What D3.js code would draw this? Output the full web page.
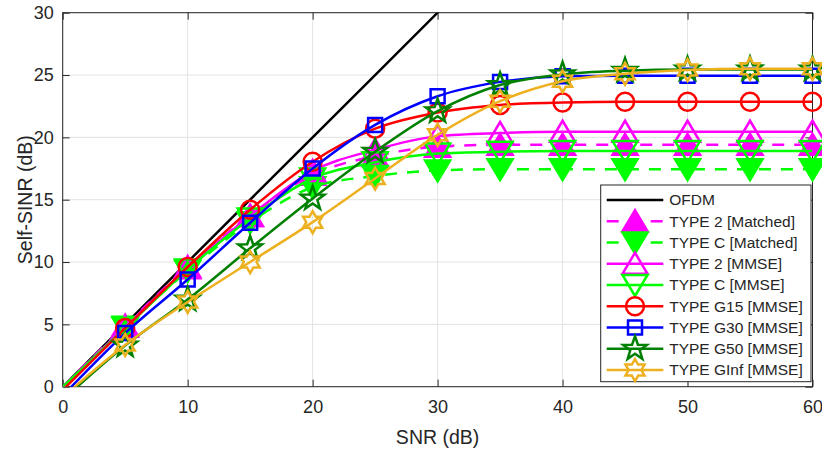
<!DOCTYPE html>
<html>
<head>
<meta charset="utf-8">
<script src="https://cdn.jsdelivr.net/npm/d3@7"></script>
<style>
  body { margin: 0; background: #fff; }
  text { font-family: "Liberation Sans", Arial, Helvetica, sans-serif; fill: #262626; }
</style>
</head>
<body>
<div class="chart"></div>
<script>
// Chart data
var snr = [0, 5, 10, 15, 20, 25, 30, 35, 40, 45, 50, 55, 60];
var ofdm = [0, 5, 10, 15, 20, 25, 30, 35, 40, 45, 50, 55, 60];
var type2Matched = [0.0, 4.9, 9.6, 13.7, 17.0, 18.5, 19.25, 19.4, 19.4, 19.4, 19.4, 19.4, 19.4];
var typeCMatched = [-0.1, 4.8, 9.3, 13.2, 16.0, 16.9, 17.35, 17.45, 17.45, 17.45, 17.45, 17.45, 17.45];
var type2Mmse = [0.0, 4.8, 9.5, 13.7, 17.3, 19.0, 20.1, 20.35, 20.45, 20.45, 20.45, 20.45, 20.45];
var typeCMmse = [0.0, 4.7, 9.4, 13.5, 16.7, 18.0, 18.7, 18.85, 18.9, 18.9, 18.9, 18.9, 18.9];
var g15Mmse = [-0.27, 4.7, 9.6, 14.2, 18.05, 20.7, 22.0, 22.6, 22.8, 22.85, 22.85, 22.85, 22.85];
var g30Mmse = [-0.72, 4.3, 8.6, 13.15, 17.5, 21.0, 23.3, 24.45, 24.9, 24.95, 24.95, 24.95, 24.95];
var g50Mmse = [-1.05, 3.3, 7.0, 11.1, 15.1, 18.85, 22.1, 24.2, 25.05, 25.35, 25.45, 25.45, 25.45];
var gInfMmse = [-0.85, 3.35, 6.8, 10.0, 13.2, 16.7, 20.2, 22.9, 24.5, 25.1, 25.4, 25.5, 25.5];

var seriesNames = ["OFDM", "TYPE 2 [Matched]", "TYPE C [Matched]", "TYPE 2 [MMSE]", "TYPE C [MMSE]",
  "TYPE G15 [MMSE]", "TYPE G30 [MMSE]", "TYPE G50 [MMSE]", "TYPE GInf [MMSE]"];
var seriesValues = [ofdm, type2Matched, typeCMatched, type2Mmse, typeCMmse, g15Mmse, g30Mmse, g50Mmse, gInfMmse];

var xTicks = [0, 10, 20, 30, 40, 50, 60];
var yTicks = [0, 5, 10, 15, 20, 25, 30];

// styles per series
var styles = [
  { color: "#000000", dash: null, marker: null, fill: false },
  { color: "#ff00ff", dash: "12,10", marker: "triUp", fill: true },
  { color: "#00ff00", dash: "12,10", marker: "triDown", fill: true },
  { color: "#ff00ff", dash: null, marker: "triUp", fill: false },
  { color: "#00ff00", dash: null, marker: "triDown", fill: false },
  { color: "#ff0000", dash: null, marker: "circle", fill: false },
  { color: "#0000ff", dash: null, marker: "square", fill: false },
  { color: "#008000", dash: null, marker: "pentagram", fill: false },
  { color: "#edb120", dash: null, marker: "hexagram", fill: false }
];

var svgWidth = 822;
var svgHeight = 450;

var margin = { top: 12.7, right: 9.5, bottom: 63.3, left: 62.7 };
var width = svgWidth - margin.left - margin.right;
var height = svgHeight - margin.top - margin.bottom;

var svg = d3.select(".chart")
  .append("svg")
  .attr("width", svgWidth)
  .attr("height", svgHeight);

var chartGroup = svg.append("g")
  .attr("transform", `translate(${margin.left}, ${margin.top})`);

var xScale = d3.scaleLinear().domain([0, 60]).range([0, width]);
var yScale = d3.scaleLinear().domain([0, 30]).range([height, 0]);

// grid
chartGroup.append("g")
  .selectAll("line.vgrid")
  .data(xTicks)
  .enter()
  .append("line")
  .attr("x1", d => xScale(d)).attr("x2", d => xScale(d))
  .attr("y1", 0).attr("y2", height)
  .attr("stroke", "#e3e3e3").attr("stroke-width", 1);

chartGroup.append("g")
  .selectAll("line.hgrid")
  .data(yTicks)
  .enter()
  .append("line")
  .attr("x1", 0).attr("x2", width)
  .attr("y1", d => yScale(d)).attr("y2", d => yScale(d))
  .attr("stroke", "#e3e3e3").attr("stroke-width", 1);

// axes (ticks inside, mirrored on top / right)
function styleAxis(g) {
  g.select(".domain").remove();
  g.selectAll(".tick line").attr("stroke", "#262626");
  g.selectAll(".tick text")
    .style("font-size", "18px")
    .attr("fill", "#262626");
}

chartGroup.append("g")
  .attr("transform", `translate(0, ${height})`)
  .call(d3.axisBottom(xScale).tickValues(xTicks).tickSize(-7).tickPadding(14))
  .call(styleAxis);

chartGroup.append("g")
  .call(d3.axisLeft(yScale).tickValues(yTicks).tickSize(-7).tickPadding(9))
  .call(styleAxis);

chartGroup.append("g")
  .call(d3.axisTop(xScale).tickValues(xTicks).tickSize(-7).tickFormat(""))
  .call(styleAxis);

chartGroup.append("g")
  .attr("transform", `translate(${width}, 0)`)
  .call(d3.axisRight(yScale).tickValues(yTicks).tickSize(-7).tickFormat(""))
  .call(styleAxis);

chartGroup.append("rect")
  .attr("width", width).attr("height", height)
  .attr("fill", "none")
  .attr("stroke", "#262626").attr("stroke-width", 1);

// axis labels
chartGroup.append("text")
  .attr("x", width / 2)
  .attr("y", height + 50)
  .attr("dy", "0.35em")
  .attr("text-anchor", "middle")
  .style("font-size", "19.5px")
  .text("SNR (dB)");

chartGroup.append("text")
  .attr("transform", `translate(-38, ${height / 2}) rotate(-90)`)
  .attr("dy", "0.35em")
  .attr("text-anchor", "middle")
  .style("font-size", "19.5px")
  .text("Self-SINR (dB)");

// marker shapes
function markerPath(type) {
  var p = d3.path();
  var i, a, r;
  if (type === "triUp" || type === "triDown") {
    var s = type === "triUp" ? 1 : -1;
    p.moveTo(0, -11 * s); p.lineTo(12.5, 10 * s); p.lineTo(-12.5, 10 * s); p.closePath();
  } else if (type === "circle") {
    p.arc(0, 0, 9, 0, 2 * Math.PI);
  } else if (type === "square") {
    p.rect(-7, -7, 14, 14);
  } else if (type === "pentagram") {
    for (i = 0; i < 10; i++) {
      r = i % 2 === 0 ? 12.5 : 5;
      a = -Math.PI / 2 + i * Math.PI / 5;
      if (i === 0) p.moveTo(r * Math.cos(a), r * Math.sin(a));
      else p.lineTo(r * Math.cos(a), r * Math.sin(a));
    }
    p.closePath();
  } else if (type === "hexagram") {
    for (i = 0; i < 12; i++) {
      r = i % 2 === 0 ? 11 : 11 / Math.sqrt(3);
      a = -Math.PI / 2 + i * Math.PI / 6;
      if (i === 0) p.moveTo(r * Math.cos(a), r * Math.sin(a));
      else p.lineTo(r * Math.cos(a), r * Math.sin(a));
    }
    p.closePath();
  }
  return p.toString();
}

// clip lines to plot area
svg.append("defs").append("clipPath")
  .attr("id", "plotClip")
  .append("rect")
  .attr("width", width).attr("height", height);

var line = d3.line()
  .x(d => xScale(d.x))
  .y(d => yScale(d.y))
  .curve(d3.curveMonotoneX);

seriesValues.forEach(function(vals, k) {
  var st = styles[k];
  var pts = snr.map((x, i) => ({ x: x, y: vals[i] }));
  var g = chartGroup.append("g");

  g.append("path")
    .datum(pts)
    .attr("clip-path", "url(#plotClip)")
    .attr("fill", "none")
    .attr("stroke", st.color)
    .attr("stroke-width", 2.5)
    .attr("stroke-dasharray", st.dash)
    .attr("d", line);

  if (st.marker) {
    g.selectAll("path.marker")
      .data(pts.filter(d => d.x > 0))
      .enter()
      .append("path")
      .attr("class", "marker")
      .attr("transform", d => `translate(${xScale(d.x)}, ${yScale(d.y)})`)
      .attr("d", markerPath(st.marker))
      .attr("fill", st.fill ? st.color : "none")
      .attr("stroke", st.color)
      .attr("stroke-width", 2.5)
      .attr("stroke-linejoin", "miter");
  }
});

// legend
var legend = svg.append("g").attr("transform", "translate(600.7, 185)");

legend.append("rect")
  .attr("width", 210.3).attr("height", 196.7)
  .attr("fill", "#fff")
  .attr("stroke", "#262626").attr("stroke-width", 1);

var rows = legend.selectAll("g.row")
  .data(seriesNames)
  .enter()
  .append("g")
  .attr("transform", (d, i) => `translate(0, ${15 + i * 21.25})`);

rows.append("line")
  .attr("x1", 6).attr("x2", 62.6)
  .attr("stroke", (d, i) => styles[i].color)
  .attr("stroke-width", 2.5)
  .attr("stroke-dasharray", (d, i) => styles[i].dash);

rows.filter((d, i) => styles[i].marker)
  .append("path")
  .attr("transform", "translate(34.3, 0)")
  .attr("d", (d) => markerPath(styles[seriesNames.indexOf(d)].marker))
  .attr("fill", d => styles[seriesNames.indexOf(d)].fill ? styles[seriesNames.indexOf(d)].color : "none")
  .attr("stroke", d => styles[seriesNames.indexOf(d)].color)
  .attr("stroke-width", 2.5);

rows.append("text")
  .attr("x", 68.5)
  .attr("dy", "0.35em")
  .style("font-size", "15.5px")
  .attr("fill", "#000")
  .text(d => d);
</script>
</body>
</html>
